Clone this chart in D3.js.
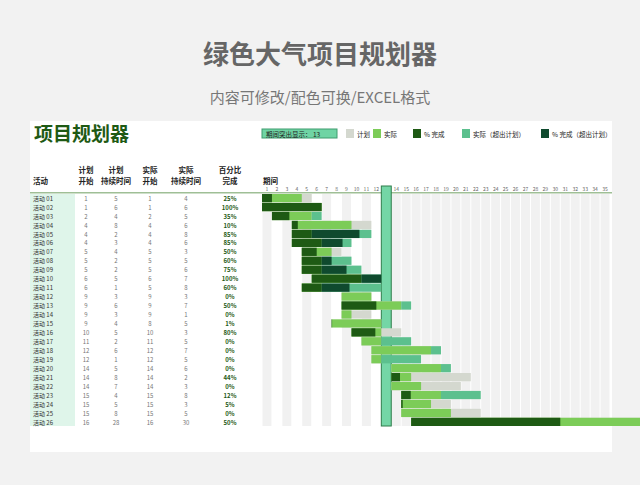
<!DOCTYPE html>
<html><head><meta charset="utf-8">
<script src="https://cdn.jsdelivr.net/npm/d3@7"></script>
<style>body{margin:0;background:#f2f2f2;font-family:"Noto Sans CJK SC","Noto Sans",sans-serif}</style>
</head><body><svg id="c" width="640" height="485"></svg>
<script>
var names = d3.range(1,27).map(function(i){return "活动 " + (i<10?"0":"") + i;});
var planStart = [1,1,2,4,4,4,5,5,5,6,6,9,9,9,9,10,11,12,12,14,14,14,15,15,15,16];
var planDur   = [5,6,4,8,2,3,4,2,2,5,1,3,6,3,4,5,2,6,1,5,8,7,4,5,8,28];
var actStart  = [1,1,2,4,4,4,5,5,5,6,5,9,9,9,8,10,11,12,12,14,14,14,15,15,15,16];
var actDur    = [4,6,5,6,8,6,3,5,6,7,8,3,7,1,5,3,5,7,5,6,2,3,8,3,5,30];
var pct       = [25,100,35,10,85,85,50,60,75,100,60,0,50,0,1,80,0,0,0,0,44,0,12,5,0,50];
var periods = d3.range(1,36);
var highlight = 13;

var svg = d3.select("#c");
svg.append("text").attr("x",320).attr("y",64).attr("text-anchor","middle")
  .attr("font-size",26).attr("font-weight","bold").attr("fill","#666").text("绿色大气项目规划器");
svg.append("text").attr("x",320).attr("y",103).attr("text-anchor","middle")
  .attr("font-size",15).attr("fill","#777").text("内容可修改/配色可换/EXCEL格式");
svg.append("rect").attr("x",30).attr("y",121).attr("width",582).attr("height",331).attr("fill","#fff");

svg.append("text").attr("x",34).attr("y",141).attr("font-size",19).attr("font-weight","bold")
  .attr("fill","#1e5a14").text("项目规划器");

// legend
svg.append("rect").attr("x",262).attr("y",129).attr("width",75).attr("height",9).attr("fill","#6fd4a4").attr("stroke","#3f9c6f");
svg.append("text").attr("x",266).attr("y",136.5).attr("font-size",6.5).attr("fill","#222").text("期间突出显示：   13");
var leg = [["计划","#d4d8cf"],["实际","#7ccc58"],["% 完成","#1e5a14"],["实际（超出计划）","#5cc08e"],["% 完成（超出计划）","#0f4a2e"]];
var lx = [346,373,413,462,541];
leg.forEach(function(l,i){
  svg.append("rect").attr("x",lx[i]).attr("y",129).attr("width",8).attr("height",9).attr("fill",l[1]);
  svg.append("text").attr("x",lx[i]+11).attr("y",136.5).attr("font-size",6.5).attr("fill","#222").text(l[0]);
});

// table headers
var cols = [{x:33,a:"start",h:["","活动"]},{x:86,h:["计划","开始"]},{x:116,h:["计划","持续时间"]},
  {x:150,h:["实际","开始"]},{x:186,h:["实际","持续时间"]},{x:230,h:["百分比","完成"]}];
cols.forEach(function(c){
  c.h.forEach(function(t,j){
    svg.append("text").attr("x",c.x).attr("y",173+j*11).attr("text-anchor",c.a||"middle")
      .attr("font-size",7.5).attr("font-weight","bold").attr("fill","#222").text(t);
  });
});
svg.append("text").attr("x",263).attr("y",184).attr("font-size",7.5).attr("font-weight","bold").attr("fill","#222").text("期间");

var y = d3.scaleBand().domain(names).range([194,426]).paddingInner(0.08);
var x = d3.scaleLinear().domain([1,36]).range([262,610]);
var w = x(2)-x(1);

svg.append("rect").attr("x",30).attr("y",192).attr("width",582).attr("height",1.5).attr("fill","#9fbf96");
svg.append("rect").attr("x",30).attr("y",194).attr("width",45).attr("height",232).attr("fill","#dff5ea");

periods.forEach(function(p){
  svg.append("text").attr("x",x(p)+w/2).attr("y",191).attr("text-anchor","middle")
    .attr("font-size",5).attr("fill","#666").text(p);
  if(p%2==1 || p>13) svg.append("rect").attr("x",x(p)+0.5).attr("y",194).attr("width",w-1)
    .attr("height",232).attr("fill","#f1f1f1");
});
svg.append("rect").attr("x",x(highlight)).attr("y",186).attr("width",w).attr("height",240)
  .attr("fill","#74d6a6").attr("stroke","#2f7d4b").attr("stroke-width",1);

var rows = svg.selectAll("g.row").data(names).enter().append("g").attr("class","row");
function cell(vals,cx,bold,col){
  rows.append("text").attr("x",cx).attr("y",function(d){return y(d)+y.bandwidth()-1.5;})
    .attr("text-anchor","middle").attr("font-size",6).attr("font-weight",bold?"bold":"normal")
    .attr("fill",col).text(function(d,i){return vals[i];});
}
rows.append("text").attr("x",33).attr("y",function(d){return y(d)+y.bandwidth()-1.5;})
  .attr("font-size",6).attr("fill","#333").text(function(d){return d;});
cell(planStart,86,false,"#777");cell(planDur,116,false,"#777");
cell(actStart,150,false,"#777");cell(actDur,186,false,"#777");
cell(pct.map(function(v){return v+"%";}),230,true,"#1e5a14");

names.forEach(function(n,i){
  var ty = y(n), h = y.bandwidth();
  var pe = planStart[i]+planDur[i], ae = actStart[i]+actDur[i];
  var ce = actStart[i]+actDur[i]*pct[i]/100;
  function bar(a,b,c){ if(b>a) svg.append("rect").attr("x",x(a)).attr("y",ty).attr("width",x(b)-x(a)).attr("height",h).attr("fill",c); }
  bar(planStart[i],pe,"#d4d8cf");
  bar(actStart[i],Math.min(ae,pe),"#7ccc58");
  bar(Math.max(actStart[i],pe),ae,"#5cc08e");
  bar(actStart[i],Math.min(ce,pe),"#1e5a14");
  bar(Math.max(actStart[i],pe),ce,"#0f4a2e");
});
</script></body></html>
